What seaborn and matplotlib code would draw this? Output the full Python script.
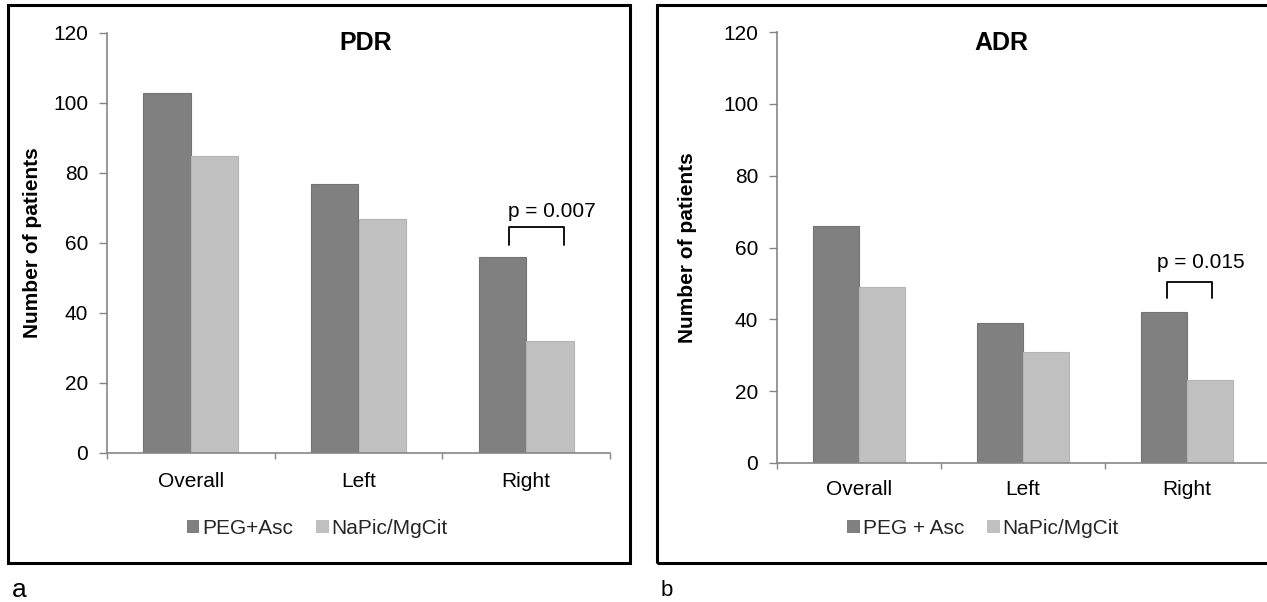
import matplotlib
matplotlib.use("Agg")
import matplotlib.pyplot as plt
import seaborn as sns
import pandas as pd
from matplotlib.patches import Rectangle

# ---- data ----
segments = ["Overall", "Left", "Right"]
pdr_peg = [103, 77, 56]
pdr_napic = [85, 67, 32]
adr_peg = [66, 39, 42]
adr_napic = [49, 31, 23]
pdr_groups = ["PEG+Asc", "NaPic/MgCit"]
adr_groups = ["PEG + Asc", "NaPic/MgCit"]
pdr_pvalue = "p = 0.007"
adr_pvalue = "p = 0.015"
yticks = [0, 20, 40, 60, 80, 100, 120]

sns.set_theme(style="white")
plt.rcParams["font.family"] = ["Liberation Sans", "DejaVu Sans"]

DARK = "#808080"
LIGHT = "#c0c0c0"
AXCOL = "#868686"
FS = 15

W, H = 1267, 602
fig = plt.figure(figsize=(W / 100, H / 100), dpi=100)


def px_axes(x0, y0, x1, y1):
    return fig.add_axes([x0 / W, (H - y1) / H, (x1 - x0) / W, (y1 - y0) / H])


def make_df(groups, a, b):
    rows = []
    for s, v in zip(segments, a):
        rows.append({"segment": s, "n": v, "group": groups[0]})
    for s, v in zip(segments, b):
        rows.append({"segment": s, "n": v, "group": groups[1]})
    return pd.DataFrame(rows)


def draw_panel(ax, df, groups, title, title_xy, legend_xy, ylabel_x,
               bracket, ptext_xy, pval, xpad):
    sns.barplot(data=df, x="segment", y="n", hue="group", order=segments,
                hue_order=groups, palette=[DARK, LIGHT], saturation=1,
                width=0.567, ax=ax, errorbar=None)
    for p in ax.patches:
        fc = p.get_facecolor()
        if fc[0] < 0.6:
            p.set_edgecolor("#737373")
        else:
            p.set_edgecolor("#b4b4b4")
        p.set_linewidth(0.8)
    ax.set_ylim(0, 120)
    ax.set_xlim(-0.5, 2.5)
    ax.set_yticks(yticks)
    ax.set_yticklabels([str(t) for t in yticks], fontsize=FS, color="black")
    ax.set_xticks([-0.5, 0.5, 1.5, 2.5])
    ax.set_xticklabels([])
    ax.set_xticks([0, 1, 2], minor=True)
    ax.set_xticklabels(segments, minor=True, fontsize=FS, color="black")
    ax.tick_params(axis="x", which="major", direction="out", length=4.5,
                   width=1, color=AXCOL, bottom=True)
    ax.tick_params(axis="x", which="minor", length=0, pad=xpad)
    ax.tick_params(axis="y", direction="out", length=5.5, width=1,
                   color=AXCOL, left=True, pad=8)
    for s in ["top", "right"]:
        ax.spines[s].set_visible(False)
    for s in ["left", "bottom"]:
        ax.spines[s].set_color(AXCOL)
        ax.spines[s].set_linewidth(1.2)
    ax.set_xlabel("")
    ax.set_ylabel("Number of patients", fontsize=FS, fontweight="bold",
                  color="black")
    ax.yaxis.set_label_coords(ylabel_x, 0.5)
    ax.text(title_xy[0], title_xy[1], title, transform=ax.transAxes,
            ha="center", va="center", fontsize=18, fontweight="bold",
            color="black")
    bx0, bx1, by0, by1 = bracket
    ax.plot([bx0, bx0, bx1, bx1], [by0, by1, by1, by0], color="black",
            lw=1.3, solid_joinstyle="round", solid_capstyle="round")
    ax.text(ptext_xy[0], ptext_xy[1], pval, ha="left", va="baseline",
            fontsize=FS, color="black")
    leg = ax.legend(loc="center", bbox_to_anchor=legend_xy, ncol=2,
                    frameon=False, fontsize=FS, handlelength=0.6,
                    handleheight=0.6, handletextpad=0.15, columnspacing=1.1)
    for h in leg.legend_handles:
        h.set_edgecolor("none")


# left panel
ax1 = px_axes(107, 33, 610, 453)
draw_panel(ax1, make_df(pdr_groups, pdr_peg, pdr_napic), pdr_groups, "PDR",
           (0.515, 0.976), (0.418, -0.179), -0.130,
           (2 - 0.104, 2 + 0.224, 59.4, 64.6), (2 - 0.11, 67.5), pdr_pvalue,
           14)

# right panel
ax2 = px_axes(777, 32, 1269, 463)
draw_panel(ax2, make_df(adr_groups, adr_peg, adr_napic), adr_groups, "ADR",
           (0.457, 0.974), (0.419, -0.151), -0.163,
           (2 - 0.12, 2 + 0.15, 46.0, 50.4), (2 - 0.185, 54.3), adr_pvalue,
           12)

# panel frames
for x0, x1 in [(8, 630), (657, 1280)]:
    fig.patches.append(Rectangle((x0 / W, (H - 563) / H), (x1 - x0) / W,
                                 (563 - 5) / H, transform=fig.transFigure,
                                 fill=False, edgecolor="black", lw=2.2,
                                 zorder=10))

fig.text(12 / W, (H - 590) / H, "a", fontsize=19, ha="left", va="center",
         color="black")
fig.text(661 / W, (H - 590) / H, "b", fontsize=16, ha="left", va="center",
         color="black")

fig.savefig("out.png", dpi=100)
